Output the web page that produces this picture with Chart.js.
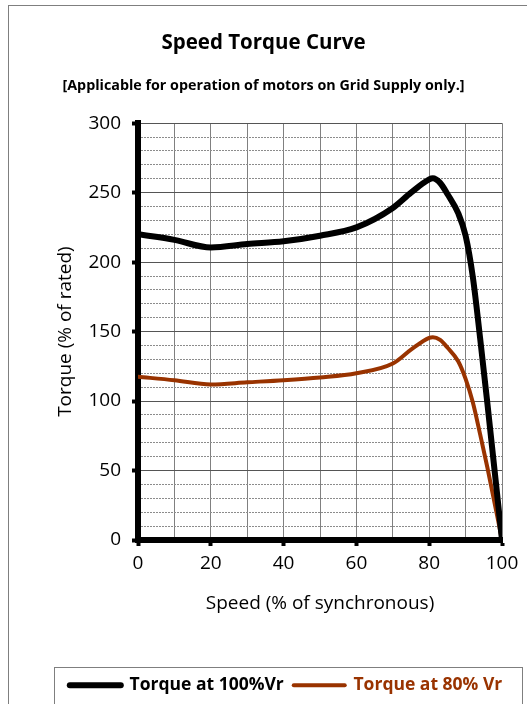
<!DOCTYPE html>
<html>
<head>
<meta charset="utf-8">
<script src="https://cdn.jsdelivr.net/npm/chart.js@4.4.1/dist/chart.umd.min.js"></script>
<style>
  html, body { margin: 0; padding: 0; background: #fff; overflow: hidden; width: 527px; height: 704px; }
  #frame { position: absolute; left: 8px; top: 5px; width: 700px; height: 800px; border: 1px solid #7f7f7f; box-sizing: border-box; }
  #c { position: absolute; left: 0; top: 0; }
</style>
</head>
<body>
<div id="frame"></div>
<canvas id="c" width="527" height="704"></canvas>
<script>
const titleText = 'Speed Torque Curve';
const subtitleText = '[Applicable for operation of motors on Grid Supply only.]';
const xTitle = 'Speed (% of synchronous)';
const yTitle = 'Torque (% of rated)';
const seriesNames = ['Torque at 100%Vr', 'Torque at 80% Vr'];
const seriesColors = ['#000000', '#993300'];

const speed     = [0,    10,  20,    30,    40,  50,  60,  70,  75,  80,    81,    83,  85,    88,    90,  92,  94,  96,  100];
const torque100 = [220,  216, 210.5, 213,   215, 219, 225, 239, 250, 259.5, 260.3, 257, 249,   235,   219, 189, 145, 98,  0];
const torque80  = [117.5,115, 112,   113.5, 115, 117, 120, 127, 137, 145.5, 146,   144, 138.5, 128.5, 116, 99,  76,  52,  0];

const xTicks = [0, 20, 40, 60, 80, 100];
const yTicks = [0, 50, 100, 150, 200, 250, 300];

const FONT = "'Open Sans', 'Noto Sans', sans-serif";

function pts(xs, ys) { return xs.map((x, i) => ({ x: x, y: ys[i] })); }

const legendBorder = {
  id: 'legendBorder',
  afterLayout(chart) {
    const lg = chart.legend;
    if (!lg) return;
    const dx = 22.5;
    lg.left += dx; lg.right += dx;
    if (lg.legendHitBoxes) lg.legendHitBoxes.forEach(h => { h.left += dx; });
  },
  afterDraw(chart) {
    const lg = chart.legend;
    if (!lg || !lg.legendHitBoxes || !lg.legendHitBoxes.length) return;
    const hb = lg.legendHitBoxes;
    const l = Math.min(...hb.map(h => h.left)) - 16;
    const r = Math.max(...hb.map(h => h.left + h.width)) + 19.5;
    const t = lg.top + 0.5;
    const b = lg.bottom - 0.5;
    const ctx = chart.ctx;
    ctx.save();
    ctx.strokeStyle = '#7f7f7f';
    ctx.lineWidth = 1;
    ctx.strokeRect(Math.round(l) + 0.5, Math.round(t) + 0.5, Math.round(r - l), Math.round(b - t));
    ctx.restore();
  }
};

new Chart(document.getElementById('c'), {
  type: 'line',
  data: {
    datasets: [
      { label: seriesNames[0], data: pts(speed, torque100), borderColor: seriesColors[0], backgroundColor: seriesColors[0],
        borderWidth: 6, pointRadius: 0, cubicInterpolationMode: 'monotone', borderCapStyle: 'round', borderJoinStyle: 'round', fill: false },
      { label: seriesNames[1], data: pts(speed, torque80), borderColor: seriesColors[1], backgroundColor: seriesColors[1],
        borderWidth: 4, pointRadius: 0, cubicInterpolationMode: 'monotone', borderCapStyle: 'round', borderJoinStyle: 'round', fill: false }
    ]
  },
  options: {
    responsive: false,
    animation: false,
    devicePixelRatio: 1,
    layout: { padding: { left: 25, right: 25, top: 0, bottom: 0 } },
    plugins: {
      title: { display: true, text: titleText, color: '#000', font: { family: FONT, size: 20.5, weight: 'bold' }, padding: { top: 30.7, bottom: 0 } },
      subtitle: { display: true, text: subtitleText, color: '#000', font: { family: FONT, size: 14.3, weight: 'bold' }, padding: { top: 22.3, bottom: 28.4 } },
      legend: {
        display: true, position: 'bottom',
        labels: {
          usePointStyle: true, pointStyle: 'line', pointStyleWidth: 51,
          padding: 10,
          color: '#000',
          font: { family: FONT, size: 17.5, weight: 'bold' },
          generateLabels(chart) {
            const items = Chart.defaults.plugins.legend.labels.generateLabels(chart);
            items.forEach((it, i) => { it.fontColor = seriesColors[i]; it.strokeStyle = seriesColors[i]; it.lineCap = 'round'; it.pointStyle = 'line'; });
            return items;
          }
        }
      },
      tooltip: { enabled: false }
    },
    scales: {
      x: {
        type: 'linear', min: 0, max: 100,
        afterBuildTicks(s) { s.ticks = [0,10,20,30,40,50,60,70,80,90,100].map(v => ({ value: v })); },
        afterFit(s) { s.height = 126.5; },
        ticks: { color: '#000', font: { family: FONT, size: 19 }, padding: 6.6, maxRotation: 0, autoSkip: false,
          callback: v => (xTicks.includes(v) ? String(v) : '') },
        grid: {
          color: c => (c.tick && c.tick.value === 0 ? 'transparent' : '#808080'),
          lineWidth: 1, drawTicks: true, tickLength: 6, tickWidth: 4,
          tickColor: c => (c.tick && xTicks.includes(c.tick.value) ? '#000' : 'transparent')
        },
        border: { display: true, color: '#000', width: 6 },
        title: { display: true, text: xTitle, color: '#000', font: { family: FONT, size: 19 }, padding: { top: 17, bottom: 51.1 } }
      },
      y: {
        type: 'linear', min: 0, max: 300, position: 'left',
        afterBuildTicks(s) { s.ticks = yTicks.map(v => ({ value: v })); },
        afterFit(s) { s.width = 113; },
        ticks: { color: '#000', font: { family: FONT, size: 19 }, padding: 11 },
        grid: {
          color: c => (c.tick && c.tick.value === 0 ? 'transparent' : '#555555'),
          lineWidth: 1, drawTicks: true, tickLength: 6, tickWidth: 4, tickColor: '#000'
        },
        border: { display: true, color: '#000', width: 6 },
        title: { display: true, text: yTitle, color: '#000', font: { family: FONT, size: 19 }, padding: { top: 29, bottom: 0 } }
      },
      yMinor: {
        type: 'linear', min: 0, max: 300, position: 'left',
        afterBuildTicks(s) { const t = []; for (let v = 0; v <= 300; v += 10) t.push({ value: v }); s.ticks = t; },
        afterFit(s) { s.width = 0; },
        ticks: { display: false },
        grid: {
          color: c => (c.tick && c.tick.value % 50 === 0 ? 'transparent' : '#8c8c8c'),
          lineWidth: 1, drawTicks: false
        },
        border: { display: false, dash: [2, 1] }
      }
    }
  },
  plugins: [legendBorder]
});
</script>
</body>
</html>
